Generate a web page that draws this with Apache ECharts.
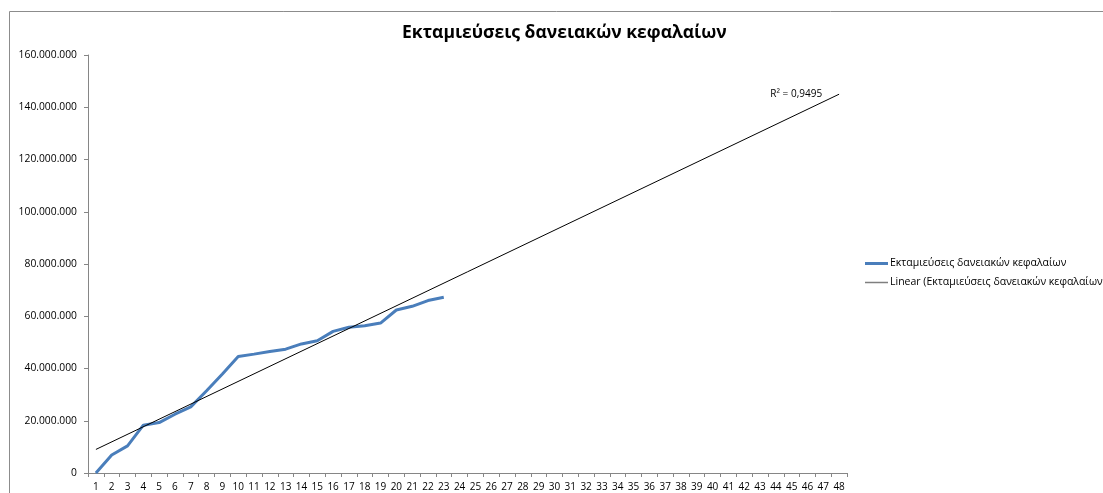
<!DOCTYPE html>
<html>
<head>
<meta charset="utf-8">
<script src="https://cdn.jsdelivr.net/npm/echarts@6/dist/echarts.min.js"></script>
<style>
  html, body { margin: 0; padding: 0; background: #fff; }
  #chart { width: 1103px; height: 493px; }
</style>
</head>
<body>
<div id="chart"></div>
<script>
  // x categories (1..48)
  const categories = ['1','2','3','4','5','6','7','8','9','10','11','12','13','14','15','16',
    '17','18','19','20','21','22','23','24','25','26','27','28','29','30','31','32',
    '33','34','35','36','37','38','39','40','41','42','43','44','45','46','47','48'];
  // εκταμιεύσεις
  const disbursements = [0, 6900000, 10400000, 18300000, 19300000, 22500000, 25300000,
    31500000, 37900000, 44600000, 45500000, 46500000, 47400000, 49400000, 50600000,
    54200000, 55800000, 56400000, 57400000, 62400000, 63800000, 66000000, 67300000];
  const seriesName = 'Εκταμιεύσεις δανειακών κεφαλαίων';
  const trendName = 'Linear (Εκταμιεύσεις δανειακών κεφαλαίων)';
  const rSquaredText = 'R² = 0,9495';
  const yTicks = [0, 20000000, 40000000, 60000000, 80000000, 100000000, 120000000, 140000000, 160000000];

  function fmt(v){
    return String(v).replace(/\B(?=(\d{3})+(?!\d))/g, '.');
  }

  // least squares trend line, like excel's linear trendline
  let n = disbursements.length, sx = 0, sy = 0, sxx = 0, sxy = 0;
  disbursements.forEach((v, i) => {
    let x = i + 1;
    sx += x; sy += v; sxx += x * x; sxy += x * v;
  });
  let slope = (n * sxy - sx * sy) / (n * sxx - sx * sx);
  let intercept = (sy - slope * sx) / n;
  let trend = categories.map(() => null);
  trend[0] = intercept + slope * 1;
  trend[categories.length - 1] = {
    value: intercept + slope * categories.length,
    label: {
      show: true,
      formatter: rSquaredText,
      position: 'left',
      distance: 17,
      offset: [0, 0],
      fontSize: 10,
      color: '#000',
      fontFamily: 'Open Sans'
    }
  };

  const chart = echarts.init(document.getElementById('chart'));
  const option = {
    animation: false,
    textStyle: { fontFamily: 'Open Sans' },
    graphic: [{
      type: 'rect',
      silent: true,
      shape: { x: 9.5, y: 11.5, width: 1200, height: 600 },
      style: { fill: 'none', stroke: '#8c8c8c', lineWidth: 1 }
    }],
    title: {
      text: seriesName,
      left: 397,
      top: 19,
      textStyle: { fontSize: 17.5, fontWeight: 'bold', color: '#000', fontFamily: 'Open Sans' }
    },
    legend: {
      orient: 'vertical',
      left: 860,
      top: 253,
      itemWidth: 23,
      itemHeight: 3,
      itemGap: 8,
      textStyle: { fontSize: 10.5, color: '#000', padding: [0, 0, 0, -3] },
      data: [
        { name: seriesName, icon: 'rect' },
        { name: trendName, icon: 'path://M0,0h23v1.5h-23z', itemStyle: { color: '#7f7f7f' } }
      ]
    },
    grid: {
      left: 88,
      right: 256,
      top: 55,
      bottom: 20,
      containLabel: false,
      outerBoundsMode: 'none'
    },
    xAxis: {
      type: 'category',
      boundaryGap: true,
      data: categories,
      axisLine: { lineStyle: { color: '#868686' } },
      axisTick: { show: true, length: 4, lineStyle: { color: '#868686' } },
      axisLabel: { interval: 0, fontSize: 10, color: '#000', margin: 9 },
      splitLine: { show: false }
    },
    yAxis: {
      type: 'value',
      min: yTicks[0],
      max: yTicks[yTicks.length - 1],
      interval: yTicks[1] - yTicks[0],
      axisLine: { show: true, lineStyle: { color: '#868686' } },
      axisTick: { show: true, length: 4, lineStyle: { color: '#868686' } },
      axisLabel: { fontSize: 10.3, color: '#000', margin: 11, formatter: fmt },
      splitLine: { show: false }
    },
    series: [{
      name: seriesName,
      type: 'line',
      data: disbursements,
      symbol: 'none',
      showSymbol: false,
      lineStyle: { color: '#4a7ebb', width: 3 },
      itemStyle: { color: '#4a7ebb' },
      z: 3
    }, {
      name: trendName,
      type: 'line',
      data: trend,
      connectNulls: true,
      symbol: 'circle',
      symbolSize: 0,
      showSymbol: true,
      lineStyle: { color: '#000', width: 1 },
      itemStyle: { color: '#000' },
      z: 4
    }]
  };
  chart.setOption(option);
</script>
</body>
</html>
